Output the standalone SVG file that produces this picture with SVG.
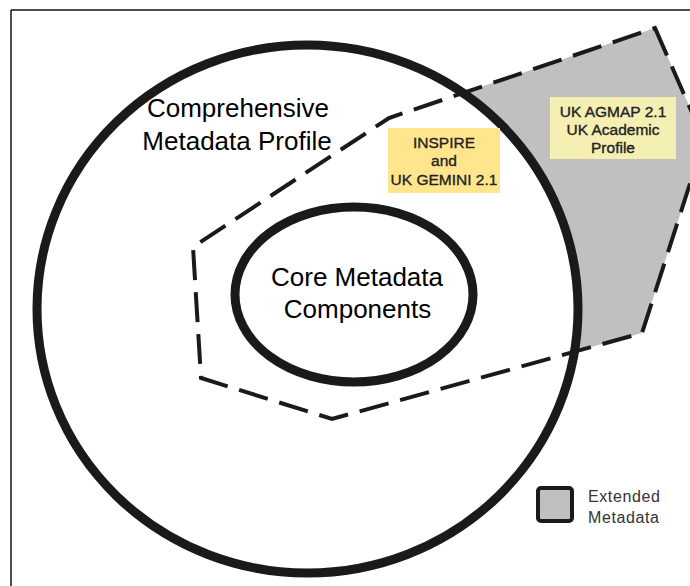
<svg xmlns="http://www.w3.org/2000/svg" width="690" height="586" viewBox="0 0 690 586">
<style>
.lbl{font-family:"Liberation Sans",Arial,sans-serif;fill:#000;text-anchor:middle}
.big{font-size:26px}
.small{font-size:15.5px;fill:#222;stroke:#222;stroke-width:0.35}
.leg{font-family:"Liberation Sans",Arial,sans-serif;font-size:16px;fill:#333;letter-spacing:0.6px}
.thick{fill:none;stroke:#1a1a1a;stroke-width:9}
.dash{fill:none;stroke:#1a1a1a;stroke-width:4;stroke-dasharray:30 12;stroke-linejoin:miter}
</style>
<rect width="690" height="586" fill="#fff"/>
<g id="border">
<line x1="11" y1="586" x2="11" y2="10" stroke="#111" stroke-width="1.5"/>
<line x1="11" y1="10" x2="690" y2="10" stroke="#111" stroke-width="1.5"/>
</g>
<g id="extended-area">
<polygon points="655,28 704,140 642,333 332,419 201,378 193,247 389,118" fill="#c0c0c0"/>
</g>
<g id="comprehensive">
<ellipse cx="307.5" cy="309" rx="270.5" ry="264" fill="#fff" stroke="#1a1a1a" stroke-width="9"/>
<text class="lbl big" x="238" y="117">Comprehensive</text>
<text class="lbl big" x="237" y="150">Metadata Profile</text>
</g>
<g id="core">
<ellipse cx="354" cy="294.5" rx="119" ry="87.5" class="thick"/>
<text class="lbl big" x="357" y="286">Core Metadata</text>
<text class="lbl big" x="357.5" y="318">Components</text>
</g>
<g id="connectors">
<polygon class="dash" points="655,28 704,140 642,333 332,419 201,378 193,247 389,118"/>
</g>
<g id="inspire">
<rect x="388" y="128" width="112" height="65" fill="#ffe68c"/>
<text class="lbl small" x="444" y="148">INSPIRE</text>
<text class="lbl small" x="444" y="166">and</text>
<text class="lbl small" x="444" y="185">UK GEMINI 2.1</text>
</g>
<g id="agmap">
<rect x="550" y="97" width="126" height="62" fill="#f5efb3"/>
<text class="lbl small" x="613" y="117">UK AGMAP 2.1</text>
<text class="lbl small" x="613" y="135">UK Academic</text>
<text class="lbl small" x="613" y="153">Profile</text>
</g>
<g id="legend">
<rect x="538" y="488" width="34" height="33" rx="3" fill="#c0c0c0" stroke="#1a1a1a" stroke-width="4"/>
<text class="leg" x="588" y="502">Extended</text>
<text class="leg" x="588" y="523">Metadata</text>
</g>
</svg>
